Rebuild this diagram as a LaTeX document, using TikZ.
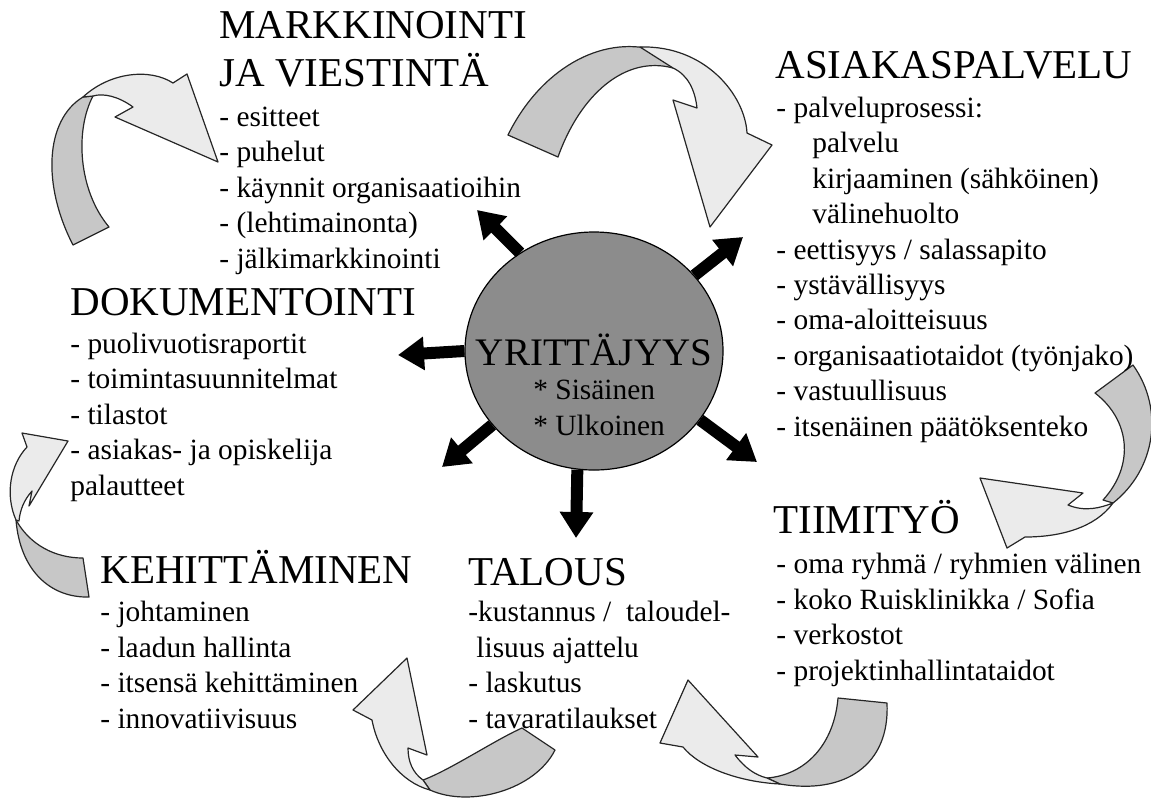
\documentclass[tikz,border=0pt]{standalone}
\usepackage{fontspec}
\setmainfont{Liberation Serif}
\usetikzlibrary{arrows.meta, shapes.geometric}
\tikzset{%
	hub/.style={draw, ellipse, inner sep=0mm, minimum width=129pt, minimum height=119pt,%
		fill=black!45, line width=0.6pt},
	head/.style={anchor=base west, inner sep=0mm, align=left, font=\fontsize{20.5}{24}\selectfont},
	items/.style={anchor=base west, inner sep=0mm, align=left, font=\fontsize{14.7}{17.7}\selectfont},
	ray/.style={line width=6pt, -{Triangle[length=13pt, width=16pt]}},
	tailband/.style={draw=black!85, fill=black!22, line width=0.6pt, line join=round},
	headband/.style={draw=black!85, fill=black!8, line width=0.6pt, line join=round}
}

\begin{document}
\begin{tikzpicture}[x=0.5pt, y=-0.5pt]
	\useasboundingbox (0,0) rectangle (1151,800);

	%curved arrows, dark back first
	\draw [tailband] (73,245) .. controls (42,185) and (45,120) .. (83,97) -- (93,96)
		.. controls (75,130) and (78,190) .. (109,227) -- cycle;
	\draw [headband] (83,97) .. controls (110,72) and (150,68) .. (173,83) -- (187,74) -- (218,162)
		-- (115,117) -- (133,107) .. controls (118,96) and (103,93) .. (93,96) -- cycle;

	\draw [tailband] (508,135) .. controls (540,70) and (600,35) .. (655,50) -- (673,68)
		.. controls (625,55) and (580,95) .. (558,157) -- cycle;
	\draw [headband] (640,47) .. controls (705,45) and (745,95) .. (747,133) -- (772,145) -- (710,227)
		-- (673,100) -- (697,108) .. controls (695,90) and (688,75) .. (673,68) -- cycle;

	\draw [tailband] (1133,365) .. controls (1165,410) and (1155,470) .. (1113,503) -- (1103,500)
		.. controls (1135,465) and (1130,420) .. (1095,393) -- cycle;
	\draw [headband] (980,478) -- (1083,493) -- (1068,505) .. controls (1085,512) and (1100,508) .. (1113,503)
		.. controls (1095,528) and (1060,537) .. (1025,537) -- (1007,548) -- cycle;

	\draw [tailband] (838,698) -- (887,703) .. controls (890,765) and (845,795) .. (780,784) -- (767,778)
		.. controls (805,775) and (834,745) .. (838,698) -- cycle;
	\draw [headband] (780,784) .. controls (740,782) and (700,768) .. (683,747) -- (660,743) -- (688,680)
		-- (758,757) -- (735,755) .. controls (745,768) and (755,775) .. (767,778) -- cycle;

	\draw [tailband] (522,728) -- (555,750) .. controls (535,790) and (470,808) .. (430,790) -- (423,780)
		.. controls (450,770) and (495,740) .. (522,728) -- cycle;
	\draw [headband] (430,790) .. controls (400,782) and (378,752) .. (372,720) -- (353,710) -- (407,658)
		-- (427,755) -- (408,748) .. controls (408,762) and (413,773) .. (423,780) -- cycle;

	\draw [tailband] (83,558) -- (89,597) .. controls (50,598) and (20,570) .. (16,520)
		.. controls (30,545) and (55,558) .. (83,558) -- cycle;
	\draw [headband] (16,520) .. controls (5,495) and (10,465) .. (27,447) -- (22,433) -- (68,441)
		-- (29,506) -- (32,491) .. controls (24,500) and (20,510) .. (19,521) -- cycle;

	%centre
	\node [hub] (yr) at (594,351) {};
	\node [anchor=base, inner sep=0mm, font=\fontsize{19.5}{24}\selectfont] (yrTitle) at (594,365) {YRITTÄJYYS};
	\node [items] (yrSub) at (533,435) {* Sisäinen\\* Ulkoinen};

	\coordinate (tMark) at (477,210);
	\coordinate (tAsia) at (743,237);
	\coordinate (tDoku) at (398,355);
	\coordinate (tKehi) at (442,467);
	\coordinate (tTalo) at (576,538);
	\coordinate (tTiimi) at (757,462);
	\draw [ray] (yr.127) to (tMark);
	\draw [ray] (yr.37) to (tAsia);
	\draw [ray] (yr.180) to (tDoku);
	\draw [ray] (yr.216) to (tKehi);
	\draw [ray] (yr.262) to (tTalo);
	\draw [ray] (yr.327) to (tTiimi);

	%text blocks (base = last line)
	\node [head] (mark) at (219,86) {MARKKINOINTI\\JA VIESTINTÄ};
	\node [items] (markList) at (219,268) {- esitteet\\- puhelut\\- käynnit organisaatioihin\\- (lehtimainonta)\\- jälkimarkkinointi};

	\node [head] (asia) at (775,78) {ASIAKASPALVELU};
	\node [items] (asiaList) at (776,436) {- palveluprosessi:\\\hspace*{18pt}palvelu\\\hspace*{18pt}kirjaaminen (sähköinen)\\\hspace*{18pt}välinehuolto\\- eettisyys / salassapito\\- ystävällisyys\\- oma-aloitteisuus\\- organisaatiotaidot (työnjako)\\- vastuullisuus\\- itsenäinen päätöksenteko};

	\node [head] (doku) at (70,315) {DOKUMENTOINTI};
	\node [items] (dokuList) at (70,495) {- puolivuotisraportit\\- toimintasuunnitelmat\\- tilastot\\- asiakas- ja opiskelija\\palautteet};

	\node [head] (kehi) at (100,583) {KEHITTÄMINEN};
	\node [items] (kehiList) at (100,728) {- johtaminen\\- laadun hallinta\\- itsensä kehittäminen\\- innovatiivisuus};

	\node [head] (talo) at (468,585) {TALOUS};
	\node [items] (taloList) at (468,728) {-kustannus / \ taloudel-\\\hspace*{4pt}lisuus ajattelu\\- laskutus\\- tavaratilaukset};

	\node [head] (tiimi) at (773,533) {TIIMITYÖ};
	\node [items] (tiimiList) at (776,680) {- oma ryhmä / ryhmien välinen\\- koko Ruisklinikka / Sofia\\- verkostot\\- projektinhallintataidot};
\end{tikzpicture}
\end{document}
